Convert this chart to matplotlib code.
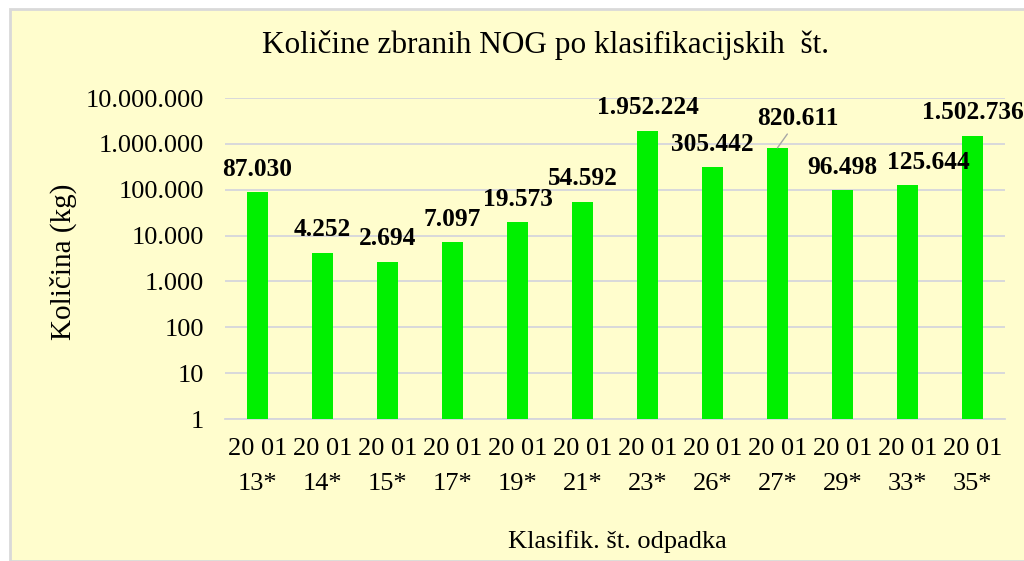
import numpy as np
import matplotlib.pyplot as plt
from matplotlib.patches import Rectangle
from matplotlib.ticker import FuncFormatter, LogLocator, NullLocator

# ====== DATA ================================================================
codes = ['13*', '14*', '15*', '17*', '19*', '21*',
         '23*', '26*', '27*', '29*', '33*', '35*']
amounts = [87030, 4252, 2694, 7097, 19573, 54592,
           1952224, 305442, 820611, 96498, 125644, 1502736]
# ============================================================================

plt.rcParams['font.family'] = ['Liberation Serif', 'DejaVu Serif']

BG = '#fffdcd'
GRID = '#d6d6dc'
BAR = '#00f000'


def dotted(v, pos=None):
    return f'{int(round(v)):,}'.replace(',', '.')


fig = plt.figure(figsize=(10.24, 5.61), dpi=100, facecolor='white')

# chart area frame, kept behind the axes
fig.patches.append(Rectangle((10 / 1024, 0), 1.0, 1 - 9 / 561,
                             transform=fig.transFigure, facecolor=BG,
                             edgecolor='#d9d9d9', linewidth=2, zorder=-1))

ax = fig.add_axes([225 / 1024, 142 / 561, 780 / 1024, 321 / 561])
ax.set_facecolor('none')

x = np.arange(len(codes))
ax.bar(x, amounts, width=0.31, color=BAR, zorder=3)

ax.set_yscale('log')
ax.set_ylim(1, 1e7)
ax.set_xlim(-0.5, len(codes) - 0.5)
ax.yaxis.set_major_locator(LogLocator(base=10, numticks=10))
ax.yaxis.set_minor_locator(NullLocator())
ax.yaxis.set_major_formatter(FuncFormatter(dotted))
ax.grid(axis='y', color=GRID, linewidth=1.3, zorder=0)

ax.set_xticks(x)
ax.set_xticklabels(['20 01\n' + c for c in codes], linespacing=1.75)
ax.tick_params(axis='x', length=0, pad=14, labelsize=19)
ax.tick_params(axis='y', length=0, pad=15, labelsize=19)

for s in ['top', 'right', 'left']:
    ax.spines[s].set_visible(False)
ax.spines['bottom'].set_color(GRID)
ax.spines['bottom'].set_linewidth(1.3)

# value labels above bars
for i, v in enumerate(amounts):
    dx, dy = 0, 16.5
    if codes[i] == '33*':
        dx = 15
    if codes[i] == '27*':
        ax.annotate(dotted(v), xy=(i, v), xytext=(15, 21),
                    textcoords='offset points', ha='center', va='center',
                    fontsize=18.3, fontweight='bold',
                    arrowprops=dict(arrowstyle='-', color='#a6a6a6',
                                    linewidth=1, shrinkA=1, shrinkB=0))
        continue
    ax.annotate(dotted(v), xy=(i, v), xytext=(dx, dy),
                textcoords='offset points', ha='center', va='center',
                fontsize=18.3, fontweight='bold')

fig.text(545 / 1024, 1 - 45 / 561, 'Količine zbranih NOG po klasifikacijskih  št.',
         ha='center', va='center', fontsize=22.5)
fig.text(63 / 1024, 1 - 262 / 561, 'Količina (kg)', rotation=90,
         ha='center', va='center', fontsize=21)
fig.text(617 / 1024, 1 - 542 / 561, 'Klasifik. št. odpadka',
         ha='center', va='center', fontsize=19)

fig.savefig('out.png', dpi=100, facecolor=fig.get_facecolor())
